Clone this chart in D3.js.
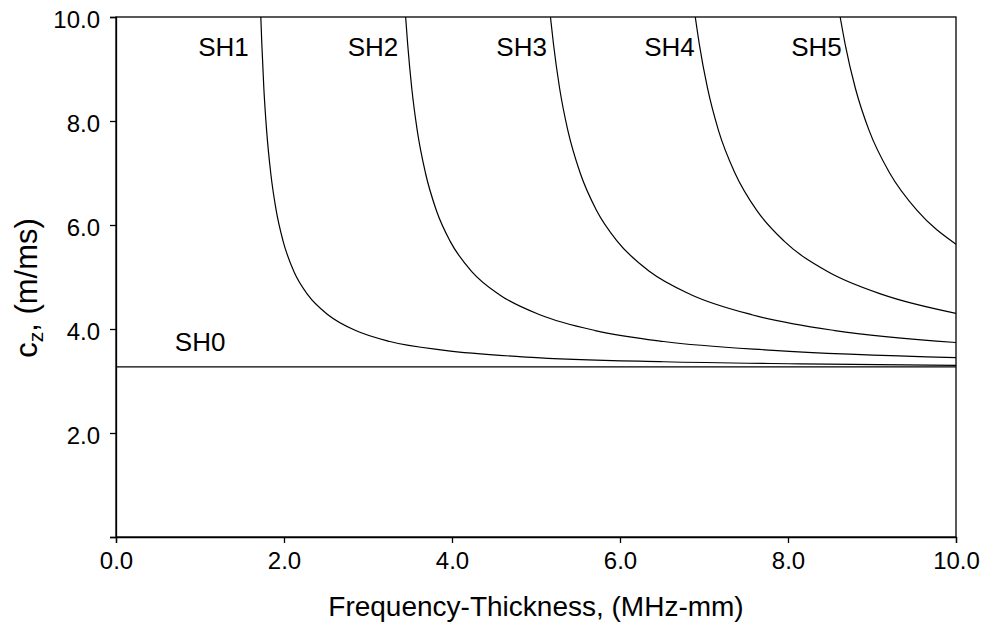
<!DOCTYPE html>
<html lang="en">
<head>
<meta charset="utf-8">
<title>SH modes</title>
<script src="https://d3js.org/d3.v7.min.js"></script>
<style>
body { margin: 0; background: #fff; }
text { font-family: "Liberation Sans", Arial, sans-serif; fill: #000; }
.curve { fill: none; stroke: #000; stroke-width: 1.2; }
</style>
</head>
<body>
<div id="container"></div>
<script>
// frequency-thickness (MHz-mm) and phase velocity cz (m/ms)
var sh0 = { fd: [0.0, 10.0], c: [3.27, 3.27] };
var sh1 = {
  fd: [1.724, 1.736, 1.760, 1.793, 1.842, 1.907, 1.989, 2.119, 2.282, 2.527, 2.853, 3.26, 3.912, 4.89, 6.52, 8.15, 10.0],
  c:  [10.0, 9.48, 8.63, 7.82, 7.00, 6.28, 5.69, 5.10, 4.66, 4.27, 3.97, 3.76, 3.59, 3.46, 3.37, 3.33, 3.30]
};
var sh2 = {
  fd: [3.448, 3.472, 3.521, 3.586, 3.684, 3.814, 3.977, 4.238, 4.564, 5.053, 5.705, 6.52, 7.824, 10.0],
  c:  [10.0, 9.48, 8.63, 7.82, 7.00, 6.28, 5.69, 5.10, 4.66, 4.27, 3.97, 3.76, 3.59, 3.45]
};
var sh3 = {
  fd: [5.172, 5.208, 5.281, 5.379, 5.526, 5.721, 5.966, 6.357, 6.846, 7.580, 8.558, 10.0],
  c:  [10.0, 9.48, 8.63, 7.82, 7.00, 6.28, 5.69, 5.10, 4.66, 4.27, 3.97, 3.74]
};
var sh4 = {
  fd: [6.896, 6.944, 7.042, 7.172, 7.368, 7.628, 7.954, 8.476, 9.128, 10.0],
  c:  [10.0, 9.48, 8.63, 7.82, 7.00, 6.28, 5.69, 5.10, 4.66, 4.30]
};
var sh5 = {
  fd: [8.621, 8.680, 8.802, 8.965, 9.210, 9.536, 10.0],
  c:  [10.0, 9.48, 8.63, 7.82, 7.00, 6.28, 5.63]
};
var modes = [sh0, sh1, sh2, sh3, sh4, sh5];

var labelNames = ["SH0", "SH1", "SH2", "SH3", "SH4", "SH5"];
var labelFd = [0.70, 1.58, 3.36, 5.13, 6.89, 8.64];
var labelC = [3.58, 9.25, 9.25, 9.25, 9.25, 9.25];

var xTicks = [0, 2, 4, 6, 8, 10];
var yTicks = [0, 2, 4, 6, 8, 10];

var w = 989, h = 628;
var pLeft = 116, pRight = 956, pTop = 17, pBottom = 537;

var svg = d3.select("#container").append("svg")
  .attr("width", w).attr("height", h)
  .style("background", "#fff");

var x = d3.scaleLinear().domain([0, 10]).range([pLeft, pRight]);
var y = d3.scaleLinear().domain([0, 10]).range([pBottom, pTop]);

svg.append("clipPath").attr("id", "plot")
  .append("rect").attr("x", pLeft).attr("y", pTop)
  .attr("width", pRight - pLeft).attr("height", pBottom - pTop);

// frame
svg.append("rect")
  .attr("x", pLeft).attr("y", pTop)
  .attr("width", pRight - pLeft).attr("height", pBottom - pTop)
  .attr("fill", "none").attr("stroke", "#000").attr("stroke-width", 1.3);

var xAxis = svg.append("g")
  .attr("transform", "translate(0," + pBottom + ")")
  .call(d3.axisBottom(x).tickValues(xTicks).tickSize(6).tickPadding(9)
    .tickFormat(d3.format(".1f")));
var yAxis = svg.append("g")
  .attr("transform", "translate(" + pLeft + ",0)")
  .call(d3.axisLeft(y).tickValues(yTicks).tickSize(6).tickPadding(10)
    .tickFormat(function(d) { return d === 0 ? "" : d3.format(".1f")(d); }));

[xAxis, yAxis].forEach(function(g) {
  g.select(".domain").attr("stroke-width", 1.3);
  g.selectAll(".tick line").attr("stroke-width", 1.3);
  g.selectAll(".tick text")
    .style("font-family", "'Liberation Sans', Arial, sans-serif")
    .style("font-size", "24px");
});
yAxis.selectAll(".tick text").attr("dy", "0.45em");

var line = d3.line()
  .x(function(d) { return x(d[0]); })
  .y(function(d) { return y(d[1]); })
  .curve(d3.curveMonotoneX);

svg.append("g").attr("clip-path", "url(#plot)")
  .selectAll("path")
  .data(modes)
  .enter()
  .append("path")
    .attr("class", "curve")
    .attr("d", function(m) { return line(d3.zip(m.fd, m.c)); });

svg.append("g")
  .selectAll("text")
  .data(labelNames)
  .enter()
  .append("text")
    .attr("x", function(d, i) { return x(labelFd[i]); })
    .attr("y", function(d, i) { return y(labelC[i]); })
    .attr("text-anchor", function(d, i) { return i === 0 ? "start" : "end"; })
    .style("font-size", "26px")
    .text(function(d) { return d; });

svg.append("text")
  .attr("x", (pLeft + pRight) / 2)
  .attr("y", 616)
  .attr("text-anchor", "middle")
  .style("font-size", "28px")
  .text("Frequency-Thickness, (MHz-mm)");

var yt = svg.append("text")
  .attr("transform", "translate(37,288) rotate(-90)")
  .attr("text-anchor", "middle")
  .style("font-size", "31px");
yt.append("tspan").text("c");
yt.append("tspan").attr("dy", 6).style("font-size", "21px").text("z");
yt.append("tspan").attr("dy", -6).text(", (m/ms)");
</script>
</body>
</html>
